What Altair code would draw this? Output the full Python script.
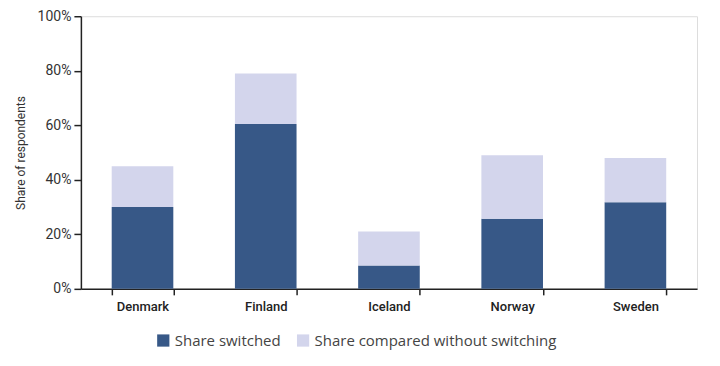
import altair as alt
import pandas as pd

countries = ["Denmark", "Finland", "Iceland", "Norway", "Sweden"]
switched = [30, 60.5, 8.6, 25.7, 31.8]
compared_total = [45, 79, 21, 49, 48]
series = ["Share switched", "Share compared without switching"]
colors = ["#375887", "#d3d5ec"]

rows = []
for c, s, t in zip(countries, switched, compared_total):
    rows.append({"country": c, "series": series[0], "value": s, "order": 0})
    rows.append({"country": c, "series": series[1], "value": round(t - s, 2), "order": 1})
df = pd.DataFrame(rows)

cond_font = "Roboto, sans-serif"

chart = alt.Chart(df).mark_bar().encode(
    x=alt.X("country:N", sort=countries, title=None,
            scale=alt.Scale(paddingInner=0.5, paddingOuter=0.25),
            axis=alt.Axis(labelAngle=0, tickBand="extent", tickSize=6, labelPadding=6,
                          labelFont=cond_font, labelFontSize=13, labelColor="#222222",
                          labelFontWeight=500,
                          domainColor="#222222", tickColor="#222222", domainWidth=1.5, tickWidth=1.5)),
    y=alt.Y("value:Q", stack="zero", title="Share of respondents",
            scale=alt.Scale(domain=[0, 100]),
            axis=alt.Axis(values=[0, 20, 40, 60, 80, 100], labelExpr="datum.value + '%'",
                          grid=False, tickSize=7, labelPadding=3,
                          labelFont=cond_font, labelFontSize=14, labelColor="#333333",
                          titleFont=cond_font, titleFontSize=12, titleFontWeight="normal",
                          titleColor="#333333", titlePadding=10,
                          domainColor="#222222", tickColor="#222222", domainWidth=1.5, tickWidth=1.5)),
    color=alt.Color("series:N", scale=alt.Scale(domain=series, range=colors),
                    legend=alt.Legend(title=None, orient="none", direction="horizontal",
                                      legendX=75, legendY=317, labelLimit=0,
                                      symbolType="square", symbolSize=150, symbolStrokeWidth=0,
                                      labelFont="Open Sans, sans-serif", labelFontSize=15,
                                      labelColor="#444444", columnPadding=14)),
    order=alt.Order("order:Q"),
).properties(width=617, height=273).configure_view(stroke=None).configure(
    padding={"left": 6, "top": 1, "right": 15, "bottom": 5}
)

chart.save("out.html", embed_options={"renderer": "svg", "actions": False})
